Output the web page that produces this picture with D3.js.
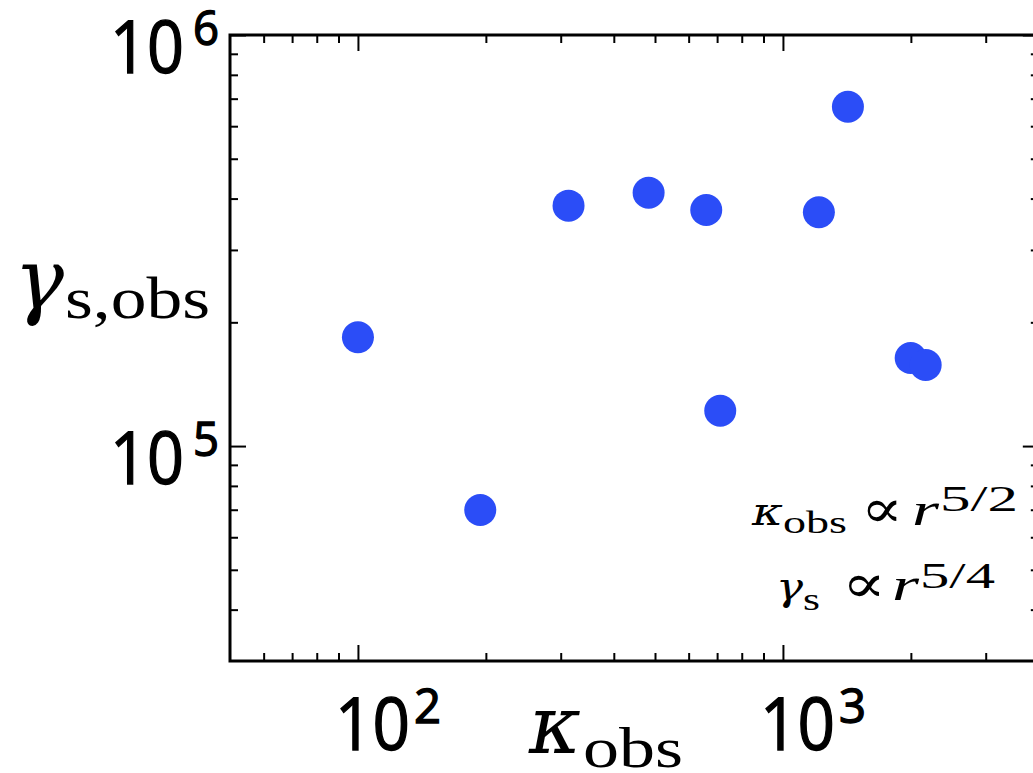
<!DOCTYPE html>
<html>
<head>
<meta charset="utf-8">
<script src="https://cdn.jsdelivr.net/npm/d3@7"></script>
<style>
  html, body { margin: 0; padding: 0; background: #fff; }
  svg { display: block; }
</style>
</head>
<body>
<svg id="chart" width="1033" height="773"></svg>
<script>
// Observed kappa vs. observed surface gamma, log-log scatter
const kappaObs = [100, 194, 313, 483, 660, 712, 1215, 1422, 1998, 2167];
const gammaObs = [1.84e5, 6.99e4, 3.844e5, 4.134e5, 3.753e5, 1.219e5, 3.704e5, 6.69e5, 1.638e5, 1.575e5];

const xDomain = [50, 4000];
const yDomain = [3e4, 1e6];
const xMajorTicks = [100, 1000];
const xMinorTicks = [60, 70, 80, 90, 200, 300, 400, 500, 600, 700, 800, 900, 2000, 3000];
const yMajorTicks = [1e5, 1e6];
const yMinorTicks = [4e4, 5e4, 6e4, 7e4, 8e4, 9e4, 2e5, 3e5, 4e5, 5e5, 6e5, 7e5, 8e5, 9e5];
const xTickExponents = ["2", "3"];
const yTickExponents = ["5", "6"];

const plotLeft = 230, plotTop = 35, plotBottom = 661;
const plotRight = plotLeft + 425 * Math.log10(xDomain[1] / xDomain[0]);

const svg = d3.select("#chart");
const x = d3.scaleLog().domain(xDomain).range([plotLeft, plotRight]);
const y = d3.scaleLog().domain(yDomain).range([plotBottom, plotTop]);

const tickFont = "'Open Sans', Lato, sans-serif";
const mathFont = "'Liberation Serif', 'DejaVu Serif', serif";
const greekFont = "'DejaVu Serif', 'Liberation Serif', serif";

// Inward ticks on all four sides
function drawTicks(axisFn, scale, values, size, transform) {
  const g = svg.append("g")
    .attr("transform", transform)
    .call(axisFn(scale).tickValues(values).tickSize(-size).tickFormat(""));
  g.select(".domain").remove();
  g.selectAll(".tick line").attr("stroke", "#000").attr("stroke-width", 2);
}
drawTicks(d3.axisBottom, x, xMajorTicks, 16, `translate(0,${plotBottom})`);
drawTicks(d3.axisBottom, x, xMinorTicks, 8, `translate(0,${plotBottom})`);
drawTicks(d3.axisTop, x, xMajorTicks, 16, `translate(0,${plotTop})`);
drawTicks(d3.axisTop, x, xMinorTicks, 8, `translate(0,${plotTop})`);
drawTicks(d3.axisLeft, y, yMajorTicks, 16, `translate(${plotLeft},0)`);
drawTicks(d3.axisLeft, y, yMinorTicks, 8, `translate(${plotLeft},0)`);
drawTicks(d3.axisRight, y, yMajorTicks, 16, `translate(${plotRight},0)`);
drawTicks(d3.axisRight, y, yMinorTicks, 8, `translate(${plotRight},0)`);

// Frame
svg.append("rect")
  .attr("x", plotLeft).attr("y", plotTop)
  .attr("width", plotRight - plotLeft).attr("height", plotBottom - plotTop)
  .attr("fill", "none").attr("stroke", "#000").attr("stroke-width", 3);

// Tick labels: 10 with superscript exponent
function tickText(str, xPos, yPos, size, width) {
  svg.append("text").attr("x", xPos).attr("y", yPos)
    .attr("font-family", tickFont).attr("font-size", size)
    .attr("stroke", "#000").attr("stroke-width", 1.4)
    .attr("textLength", width).attr("lengthAdjust", "spacingAndGlyphs")
    .text(str);
}
xMajorTicks.forEach((v, i) => {
  const x0 = x(v) - 23;
  tickText("10", x0, 750, 74, 75);
  tickText(xTickExponents[i], x0 + 79, 723, 48, 27);
});
yMajorTicks.forEach((v, i) => {
  const y0 = y(v);
  tickText("10", 110, y0 + 38, 74, 74);
  tickText(yTickExponents[i], 193, y0 + 10, 48, 26);
});

// Points
svg.append("g").selectAll("circle")
  .data(kappaObs.map((k, i) => ({ k, g: gammaObs[i] })))
  .join("circle")
  .attr("cx", d => x(d.k))
  .attr("cy", d => y(d.g))
  .attr("r", 16)
  .attr("fill", "#2b4df7");

// Math-style text helper
function mathText(str, xPos, yPos, size, width, italic, family) {
  svg.append("text").attr("x", xPos).attr("y", yPos)
    .attr("font-family", family || mathFont).attr("font-size", size)
    .attr("font-style", italic ? "italic" : "normal")
    .attr("textLength", width).attr("lengthAdjust", "spacingAndGlyphs")
    .text(str);
}

// Axis titles
mathText("γ", 14, 308, 84, 50, true, greekFont);
mathText("s,obs", 65, 318, 60, 145, false);
mathText("κ", 529, 753, 80, 52, true, greekFont);
mathText("obs", 583, 767, 58, 100, false);

// Scaling relations
mathText("κ", 752, 525, 40, 31, true, greekFont);
mathText("obs", 783, 533, 31, 64, false);
mathText("∝", 861, 527, 54, 42, false, greekFont);
mathText("r", 912, 525, 46, 27, true);
mathText("5/2", 940, 511, 36, 78, false);

mathText("γ", 776, 600, 40, 27, true, greekFont);
mathText("s", 803, 610, 31, 17, false);
mathText("∝", 842, 602, 54, 44, false, greekFont);
mathText("r", 892, 600, 46, 27, true);
mathText("5/4", 920, 588, 36, 75, false);
</script>
</body>
</html>
